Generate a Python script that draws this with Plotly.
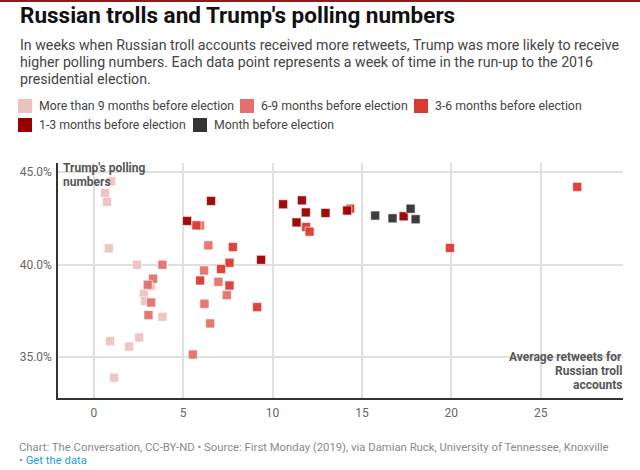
import plotly.graph_objects as go

# ---------------- data ----------------
categories = [
    "More than 9 months before election",
    "6-9 months before election",
    "3-6 months before election",
    "1-3 months before election",
    "Month before election",
]
colors = ["#efc2c2", "#e5706b", "#dc3a31", "#990000", "#333333"]

x_9plus = [0.97, 0.63, 0.74, 0.84, 2.41, 2.80, 2.87, 3.20, 3.84, 0.91, 1.98, 2.54, 1.14]
y_9plus = [44.51, 43.88, 43.40, 40.89, 40.00, 38.43, 38.05, 38.85, 37.19, 35.87, 35.58, 36.07, 33.90]

x_6_9 = [3.84, 3.32, 3.02, 3.21, 3.06, 6.41, 6.17, 6.97, 7.44, 6.19, 6.51, 5.54, 5.95]
y_6_9 = [40.00, 39.25, 38.92, 37.96, 37.28, 41.05, 39.69, 39.08, 38.36, 37.89, 36.83, 35.15, 42.12]

x_3_6 = [5.74, 7.78, 7.59, 7.12, 5.95, 7.59, 9.14, 11.88, 12.07, 14.34, 27.04, 19.92]
y_3_6 = [42.13, 40.96, 40.11, 39.77, 39.15, 38.88, 37.71, 42.04, 41.79, 43.03, 44.21, 40.91]

x_1_3 = [5.22, 6.56, 9.36, 10.59, 11.64, 11.86, 11.34, 12.96, 14.17, 17.33]
y_1_3 = [42.37, 43.45, 40.27, 43.27, 43.48, 42.83, 42.29, 42.80, 42.93, 42.62]

x_month = [15.74, 16.71, 17.72, 18.00]
y_month = [42.66, 42.51, 43.03, 42.46]

series_x = [x_9plus, x_6_9, x_3_6, x_1_3, x_month]
series_y = [y_9plus, y_6_9, y_3_6, y_1_3, y_month]

x_ticks = [0, 5, 10, 15, 20, 25]
y_ticks = [35, 40, 45]

title = "Russian trolls and Trump's polling numbers"
subtitle_lines = [
    "In weeks when Russian troll accounts received more retweets, Trump was more likely to receive",
    "higher polling numbers. Each data point represents a week of time in the run-up to the 2016",
    "presidential election.",
]
y_title_lines = ["Trump's polling", "numbers"]
x_title_lines = ["Average retweets for", "Russian troll", "accounts"]
source = ("Chart: The Conversation, CC-BY-ND • Source: First Monday (2019), via Damian Ruck, "
          "University of Tennessee, Knoxville")
data_link = "Get the data"

# ---------------- layout geometry (pixels) ----------------
W, H = 640, 470
L, R, T, B = 58, 17, 163, 72
PW, PH = W - L - R, H - T - B


def px(xp):
    return (xp - L) / PW


def py(yp):
    return (H - B - yp) / PH


FONT = "Roboto, 'Open Sans', sans-serif"

fig = go.Figure()
for name, xs, ys, c in zip(categories, series_x, series_y, colors):
    fig.add_trace(go.Scatter(
        x=xs, y=ys, mode="markers", name=name,
        marker=dict(symbol="square", size=9, color=c, opacity=0.95,
                    line=dict(color="rgba(255,255,255,0.6)", width=1)),
        showlegend=False,
    ))

shapes = []
annotations = []


def text(t, x, y, size, color, xanchor="left", yanchor="middle", bold=False, align="left"):
    annotations.append(dict(text=f"<b>{t}</b>" if bold else t, xref="paper", yref="paper",
                            x=px(x), y=py(y), xanchor=xanchor, yanchor=yanchor,
                            showarrow=False, align=align,
                            font=dict(family=FONT, size=size, color=color)))


# top bar
shapes.append(dict(type="rect", xref="paper", yref="paper", x0=px(0), x1=px(W),
                   y0=py(2), y1=py(0), fillcolor="#8c1b1b", line=dict(width=0), layer="above"))

# title / subtitle
text(title, 18, 15, 22.5, "#111111", bold=True)
for i, line in enumerate(subtitle_lines):
    text(line, 18, 45 + i * 16.8, 14.2, "#444444")

# manual legend
legend_pos = [(18, 106), (240, 106), (414, 106), (18, 125), (193, 125)]
for (lx, ly), name, c in zip(legend_pos, categories, colors):
    shapes.append(dict(type="rect", xref="paper", yref="paper",
                       x0=px(lx), x1=px(lx + 14), y0=py(ly + 7), y1=py(ly - 7),
                       fillcolor=c, line=dict(width=0)))
    text(name, lx + 19, ly, 12.3, "#444444")

# axis titles
for i, line in enumerate(y_title_lines):
    text(line, 61, 168 + i * 14, 12, "#555555", bold=True)
for i, line in enumerate(x_title_lines):
    text(line, 624, 357 + i * 14, 12, "#555555", xanchor="right", bold=True, align="right")

# footer
text(source, 17, 447, 11.3, "#8a8a8a")
text(f"• <span style='color:#1a9fd9'>{data_link}</span>", 17, 460, 11.3, "#8a8a8a")

fig.update_layout(
    width=W, height=H,
    margin=dict(l=L, r=R, t=T, b=B),
    paper_bgcolor="white", plot_bgcolor="white",
    font=dict(family=FONT, size=12, color="#666666"),
    shapes=shapes, annotations=annotations,
    showlegend=False,
    xaxis=dict(range=[-2, 29.6], tickvals=x_ticks, ticktext=[str(v) for v in x_ticks],
               showgrid=True, gridcolor="#e0e0e0", gridwidth=1.5, zeroline=False,
               showline=True, linecolor="#333333", linewidth=1.5, ticks="",
               ticklabelstandoff=3,
               tickfont=dict(size=12, color="#666666")),
    yaxis=dict(range=[32.8, 45.5], tickvals=y_ticks,
               ticktext=[f"{v:.1f}%" for v in y_ticks],
               showgrid=True, gridcolor="#e0e0e0", gridwidth=1.5, zeroline=False,
               showline=True, linecolor="#333333", linewidth=1.5, ticks="",
               ticklabelstandoff=2,
               tickfont=dict(size=12, color="#666666")),
)

fig.write_html("out.html", config={"displayModeBar": False},
               post_script="document.body.style.margin='0';")
